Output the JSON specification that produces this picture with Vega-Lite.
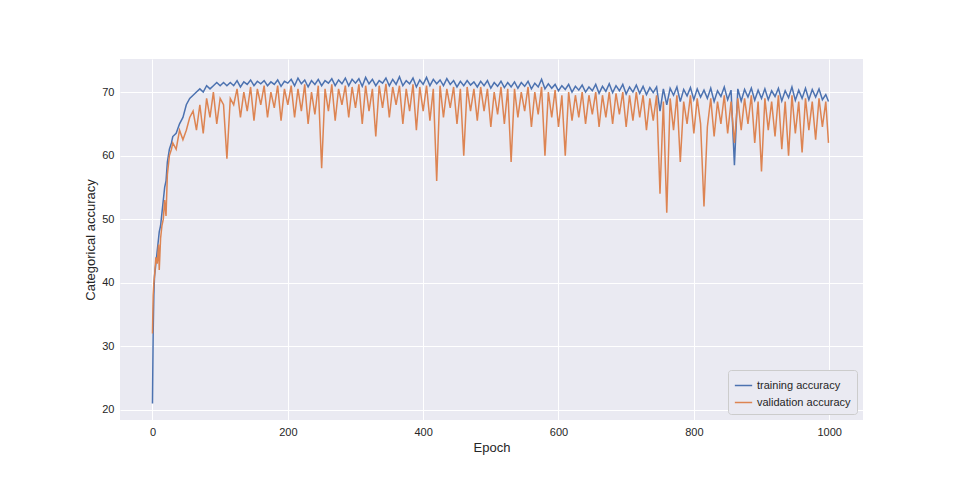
{
  "$schema": "https://vega.github.io/schema/vega-lite/v6.json",
  "width": 743,
  "height": 361,
  "padding": {"left": 120, "top": 59, "right": 97, "bottom": 60},
  "autosize": {"type": "none"},
  "background": "white",
  "config": {
    "view": {"fill": "#EAEAF2", "stroke": null},
    "font": "Liberation Sans",
    "axis": {"grid": true, "gridColor": "white", "gridWidth": 1, "domain": false, "ticks": false, "labelFontSize": 11, "titleFontSize": 13, "titleFontWeight": "normal", "labelColor": "#262626", "titleColor": "#262626", "labelPadding": 6}
  },
  "data": {"values": [
    {"e":0,"t":21,"v":32},{"e":1,"t":32,"v":38},{"e":2,"t":38,"v":40},{"e":3,"t":41,"v":41},{"e":5,"t":43,"v":44},{"e":7,"t":45,"v":43},{"e":9,"t":47,"v":46},{"e":10,"t":48,"v":42},{"e":12,"t":49,"v":47},{"e":14,"t":51,"v":49},{"e":16,"t":53,"v":50},{"e":18,"t":55,"v":53},{"e":20,"t":56,"v":50.5},{"e":22,"t":59,"v":57},{"e":25,"t":61,"v":60},{"e":28,"t":62,"v":61},{"e":30,"t":63,"v":62},{"e":35,"t":63.5,"v":61},{"e":40,"t":65,"v":64},{"e":45,"t":66,"v":62.5},{"e":50,"t":68,"v":64},{"e":55,"t":69,"v":66},{"e":60,"t":69.5,"v":67},{"e":65,"t":70,"v":64},{"e":70,"t":70.5,"v":68},{"e":75,"t":70,"v":63.5},{"e":80,"t":71,"v":69},{"e":85,"t":70.5,"v":66},{"e":90,"t":71,"v":70},{"e":95,"t":71.5,"v":65},{"e":100,"t":71,"v":69},{"e":105,"t":71.5,"v":68},{"e":110,"t":71,"v":59.5},{"e":115,"t":71.5,"v":69},{"e":120,"t":71,"v":68},
    {"e":125,"t":71.8,"v":70.5},{"e":130,"t":70.8,"v":66},{"e":135,"t":71.6,"v":70},{"e":140,"t":71.2,"v":67},{"e":145,"t":71.9,"v":70.8},{"e":150,"t":71,"v":65.5},{"e":155,"t":71.7,"v":70.5},{"e":160,"t":71.3,"v":68},{"e":165,"t":71.8,"v":71},{"e":170,"t":71,"v":66},{"e":175,"t":71.6,"v":70},{"e":180,"t":71.2,"v":67.5},{"e":185,"t":71.9,"v":71},{"e":190,"t":70.9,"v":65.5},{"e":195,"t":71.7,"v":70.5},{"e":200,"t":71.4,"v":68},{"e":205,"t":72,"v":71},{"e":210,"t":71,"v":66},{"e":215,"t":72.2,"v":70.5},{"e":220,"t":71.3,"v":67},{"e":225,"t":71.9,"v":71.2},{"e":230,"t":70.8,"v":65},{"e":235,"t":71.8,"v":70},{"e":240,"t":71.2,"v":66.5},{"e":245,"t":72,"v":71},{"e":250,"t":71,"v":58},{"e":255,"t":71.8,"v":70.5},{"e":260,"t":71.4,"v":67},{"e":265,"t":72.1,"v":71.2},{"e":270,"t":71,"v":65.5},{"e":275,"t":71.9,"v":70.5},{"e":280,"t":71.3,"v":68},{"e":285,"t":72.2,"v":71},{"e":290,"t":71,"v":66},{"e":295,"t":72,"v":70.8},{"e":300,"t":71.4,"v":67.5},{"e":305,"t":72.1,"v":71.2},{"e":310,"t":70.9,"v":65},{"e":315,"t":72.3,"v":71},{"e":320,"t":71.3,"v":67},{"e":325,"t":72,"v":70.5},{"e":330,"t":71,"v":63},{"e":335,"t":71.8,"v":71},{"e":340,"t":71.4,"v":67.5},{"e":345,"t":72.2,"v":71.3},{"e":350,"t":71,"v":66},{"e":355,"t":72,"v":70.8},{"e":360,"t":71.2,"v":68},{"e":365,"t":72.4,"v":71},{"e":370,"t":71,"v":65},{"e":375,"t":71.8,"v":70.5},{"e":380,"t":71.3,"v":67},{"e":385,"t":72.2,"v":71.2},{"e":390,"t":70.8,"v":64},{"e":395,"t":71.9,"v":70.8},{"e":400,"t":71.2,"v":67},{"e":405,"t":72.3,"v":71},{"e":410,"t":71,"v":65.5},{"e":415,"t":72,"v":70.5},{"e":420,"t":71.3,"v":56},{"e":425,"t":71.9,"v":71},{"e":430,"t":71,"v":66},{"e":435,"t":72.1,"v":70.5},{"e":440,"t":71.2,"v":67.5},{"e":445,"t":71.8,"v":70.8},{"e":450,"t":70.8,"v":65},{"e":455,"t":71.7,"v":70.5},{"e":460,"t":71,"v":60},{"e":465,"t":71.8,"v":70.8},{"e":470,"t":71.1,"v":67},{"e":475,"t":71.6,"v":70.5},{"e":480,"t":70.8,"v":65.5},{"e":485,"t":71.7,"v":70.8},{"e":490,"t":71,"v":67},{"e":495,"t":71.8,"v":70.5},{"e":500,"t":70.6,"v":64.5},{"e":505,"t":71.5,"v":70},{"e":510,"t":70.9,"v":66.5},{"e":515,"t":71.7,"v":70.8},{"e":520,"t":70.7,"v":65},{"e":525,"t":71.5,"v":70.5},{"e":530,"t":70.8,"v":59},{"e":535,"t":71.6,"v":70.5},{"e":540,"t":70.6,"v":66},{"e":545,"t":71.5,"v":70},{"e":550,"t":70.9,"v":67},{"e":555,"t":71.7,"v":70.8},{"e":560,"t":70.5,"v":64.5},{"e":565,"t":71.4,"v":70},{"e":570,"t":70.8,"v":66.5},{"e":575,"t":72,"v":70.8},{"e":580,"t":70.5,"v":60},{"e":585,"t":71.3,"v":70},{"e":590,"t":70.6,"v":66},{"e":595,"t":71.2,"v":70.3},{"e":600,"t":70.2,"v":64.5},{"e":605,"t":71,"v":69.5},{"e":610,"t":70.4,"v":60},{"e":615,"t":71.2,"v":70},{"e":620,"t":70,"v":65.5},{"e":625,"t":70.9,"v":69.5},{"e":630,"t":70.3,"v":66},{"e":635,"t":71.1,"v":70},{"e":640,"t":70,"v":65},{"e":645,"t":70.8,"v":69.5},{"e":650,"t":70.2,"v":66.5},{"e":655,"t":71.2,"v":70},{"e":660,"t":69.8,"v":64.5},{"e":665,"t":70.9,"v":69.5},{"e":670,"t":70.1,"v":66},{"e":675,"t":71.3,"v":70},{"e":680,"t":69.9,"v":65},{"e":685,"t":71,"v":69.8},{"e":690,"t":70.2,"v":66.5},{"e":695,"t":71.2,"v":70},{"e":700,"t":69.7,"v":64.5},{"e":705,"t":70.8,"v":69.5},{"e":710,"t":70,"v":65.5},{"e":715,"t":71.1,"v":70},{"e":720,"t":69.8,"v":66},{"e":725,"t":70.9,"v":69.5},{"e":730,"t":69.6,"v":64},{"e":735,"t":70.7,"v":69},{"e":740,"t":69.9,"v":65.5},{"e":745,"t":70.8,"v":69.5},{"e":750,"t":67,"v":54},{"e":755,"t":70.5,"v":68.5},{"e":760,"t":68,"v":51},{"e":765,"t":70.6,"v":69},{"e":770,"t":69.5,"v":64},{"e":775,"t":70.8,"v":69.5},{"e":780,"t":68.5,"v":59},{"e":785,"t":70.4,"v":68.5},{"e":790,"t":69.4,"v":65},{"e":795,"t":70.7,"v":69.5},{"e":800,"t":68.8,"v":63.5},{"e":805,"t":70.5,"v":69},{"e":810,"t":69.2,"v":65},{"e":815,"t":70.3,"v":52},{"e":820,"t":69,"v":64.5},{"e":825,"t":70.6,"v":69},{"e":830,"t":68.5,"v":63},{"e":835,"t":70.2,"v":68.5},{"e":840,"t":69.3,"v":65},{"e":845,"t":70.8,"v":69.5},{"e":850,"t":68.8,"v":63.5},{"e":855,"t":70.3,"v":68.5},{"e":860,"t":58.5,"v":62},{"e":865,"t":70.5,"v":69},{"e":870,"t":68.6,"v":64},{"e":875,"t":70.4,"v":69},{"e":880,"t":69.2,"v":65},{"e":885,"t":70.6,"v":69.5},{"e":890,"t":68.7,"v":62},{"e":895,"t":70.3,"v":68.5},{"e":900,"t":69,"v":57.5},{"e":905,"t":70.5,"v":69},{"e":910,"t":68.8,"v":64},{"e":915,"t":70.2,"v":68.5},{"e":920,"t":69.3,"v":63},{"e":925,"t":70.6,"v":69.5},{"e":930,"t":68.6,"v":61},{"e":935,"t":70.2,"v":68.5},{"e":940,"t":69.1,"v":60},{"e":945,"t":70.8,"v":69.5},{"e":950,"t":68.7,"v":63.5},{"e":955,"t":70.3,"v":68.5},{"e":960,"t":69,"v":60.5},{"e":965,"t":70.6,"v":69},{"e":970,"t":68.8,"v":64},{"e":975,"t":70.4,"v":68.5},{"e":980,"t":69.2,"v":62.5},{"e":985,"t":70.5,"v":69},{"e":990,"t":68.8,"v":64.5},{"e":995,"t":69.6,"v":68.5},{"e":999,"t":68.5,"v":62}
  ]},
  "transform": [
    {"fold": ["t", "v"], "as": ["key", "acc"]},
    {"lookup": "key", "from": {"data": {"values": [{"key": "t", "series": "training accuracy"}, {"key": "v", "series": "validation accuracy"}]}, "key": "key", "fields": ["series"]}}
  ],
  "mark": {"type": "line", "strokeWidth": 1.5},
  "encoding": {
    "x": {"field": "e", "type": "quantitative", "title": "Epoch", "scale": {"domain": [-48, 1050], "nice": false, "zero": false}, "axis": {"values": [0, 200, 400, 600, 800, 1000], "format": "d"}},
    "y": {"field": "acc", "type": "quantitative", "title": "Categorical accuracy", "scale": {"domain": [18.4, 75.2], "nice": false, "zero": false}, "axis": {"values": [20, 30, 40, 50, 60, 70]}},
    "color": {"field": "series", "type": "nominal", "scale": {"range": ["#4C72B0", "#DD8452"]},
      "legend": {"title": null, "orient": "bottom-right", "fillColor": "#EAEAF2", "strokeColor": "#CCCCCC", "padding": 6, "cornerRadius": 3, "symbolType": "stroke", "symbolSize": 300, "symbolStrokeWidth": 1.5, "labelFontSize": 11, "labelColor": "#262626", "offset": 6}}
  }
}
